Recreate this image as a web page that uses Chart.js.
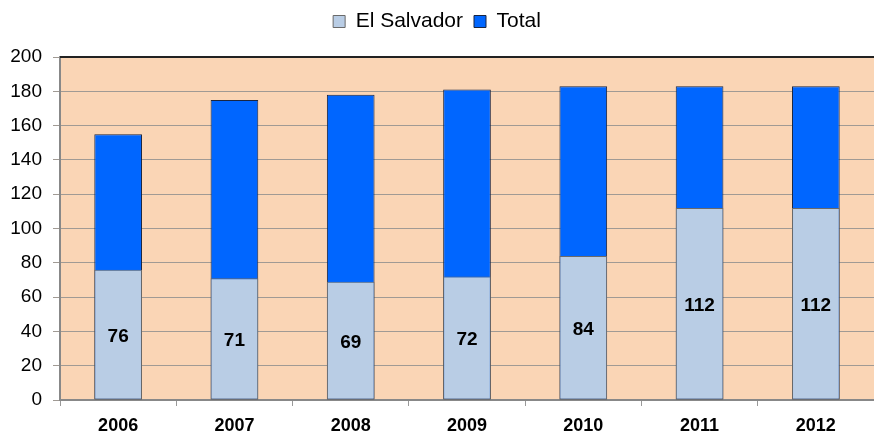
<!DOCTYPE html>
<html>
<head>
<meta charset="utf-8">
<script src="https://cdn.jsdelivr.net/npm/chart.js@4/dist/chart.umd.min.js"></script>
<style>
  html, body { margin: 0; padding: 0; background: #fff; }
  #wrap { width: 874px; height: 437px; }
</style>
</head>
<body>
<div id="wrap"><canvas id="chart" width="874" height="437"></canvas></div>
<script>
const years = ['2006', '2007', '2008', '2009', '2010', '2011', '2012'];
const elSalvador = [76, 71, 69, 72, 84, 112, 112];
const total = [155, 175, 178, 181, 183, 183, 183];
const yTicks = { min: 0, max: 200, step: 20 };

const FONT = '"Liberation Sans", Arial, sans-serif';

// fond de la zone de tracé + bordure du haut
const plotBg = {
  id: 'plotBg',
  beforeDraw(chart) {
    const { ctx, chartArea: a } = chart;
    ctx.save();
    ctx.fillStyle = '#FAD5B5';
    ctx.fillRect(a.left, a.top, a.right - a.left, a.bottom - a.top);
    ctx.restore();
  },
  afterDatasetsDraw(chart) {
    const { ctx, chartArea: a } = chart;
    ctx.save();
    ctx.strokeStyle = '#222';
    ctx.lineWidth = 2;
    ctx.beginPath();
    ctx.moveTo(a.left, a.top);
    ctx.lineTo(a.right, a.top);
    ctx.stroke();
    ctx.restore();
  }
};

// un peu d'espace sous la légende
const legendSpace = {
  id: 'legendSpace',
  beforeLayout(chart) {
    const lg = chart.legend;
    if (lg && !lg._patched) {
      const fit = lg.fit.bind(lg);
      lg.fit = function () {
        fit();
        this.height = Math.max(this.height, 57);
      };
      lg._patched = true;
    }
  }
};

// étiquettes au milieu des barres El Salvador
const barLabels = {
  id: 'barLabels',
  afterDatasetsDraw(chart) {
    const { ctx } = chart;
    const meta = chart.getDatasetMeta(0);
    ctx.save();
    ctx.font = 'bold 19px ' + FONT;
    ctx.fillStyle = '#000';
    ctx.textAlign = 'center';
    ctx.textBaseline = 'middle';
    meta.data.forEach((bar, i) => {
      const y = (bar.y + bar.base) / 2;
      ctx.fillText(String(elSalvador[i]), bar.x, y + 2);
    });
    ctx.restore();
  }
};

new Chart(document.getElementById('chart'), {
  type: 'bar',
  data: {
    labels: years,
    datasets: [
      {
        label: 'El Salvador',
        data: elSalvador,
        backgroundColor: '#B9CDE5',
        borderColor: '#6a6a6a',
        borderWidth: 1,
        borderSkipped: false,
        categoryPercentage: 0.41,
        barPercentage: 1
      },
      {
        label: 'Total',
        data: total,
        backgroundColor: '#0066FF',
        borderColor: '#1a2540',
        borderWidth: 1,
        borderSkipped: false,
        categoryPercentage: 0.41,
        barPercentage: 1
      }
    ]
  },
  options: {
    responsive: false,
    animation: false,
    layout: { padding: { top: 0, right: 0, left: 0, bottom: 0 } },
    plugins: {
      legend: {
        position: 'top',
        labels: {
          color: '#000',
          font: { size: 21, family: FONT },
          boxWidth: 12,
          boxHeight: 12,
          padding: 11
        }
      },
      tooltip: { enabled: false }
    },
    scales: {
      x: {
        stacked: true,
        afterFit(s) { s.height = 37; },
        grid: { offset: true, drawOnChartArea: false, tickLength: 6, color: '#999' },
        border: { color: '#888', width: 2 },
        ticks: {
          color: '#000',
          font: { size: 18, weight: 'bold', family: FONT },
          padding: 9
        }
      },
      y: {
        stacked: false,
        min: yTicks.min,
        max: yTicks.max,
        afterFit(s) { s.width = 60; },
        grid: { color: '#a09a94', lineWidth: 1, tickLength: 7 },
        border: { color: '#888', width: 2 },
        ticks: {
          stepSize: yTicks.step,
          color: '#000',
          font: { size: 19, family: FONT },
          padding: 11
        }
      }
    }
  },
  plugins: [plotBg, legendSpace, barLabels]
});
</script>
</body>
</html>
